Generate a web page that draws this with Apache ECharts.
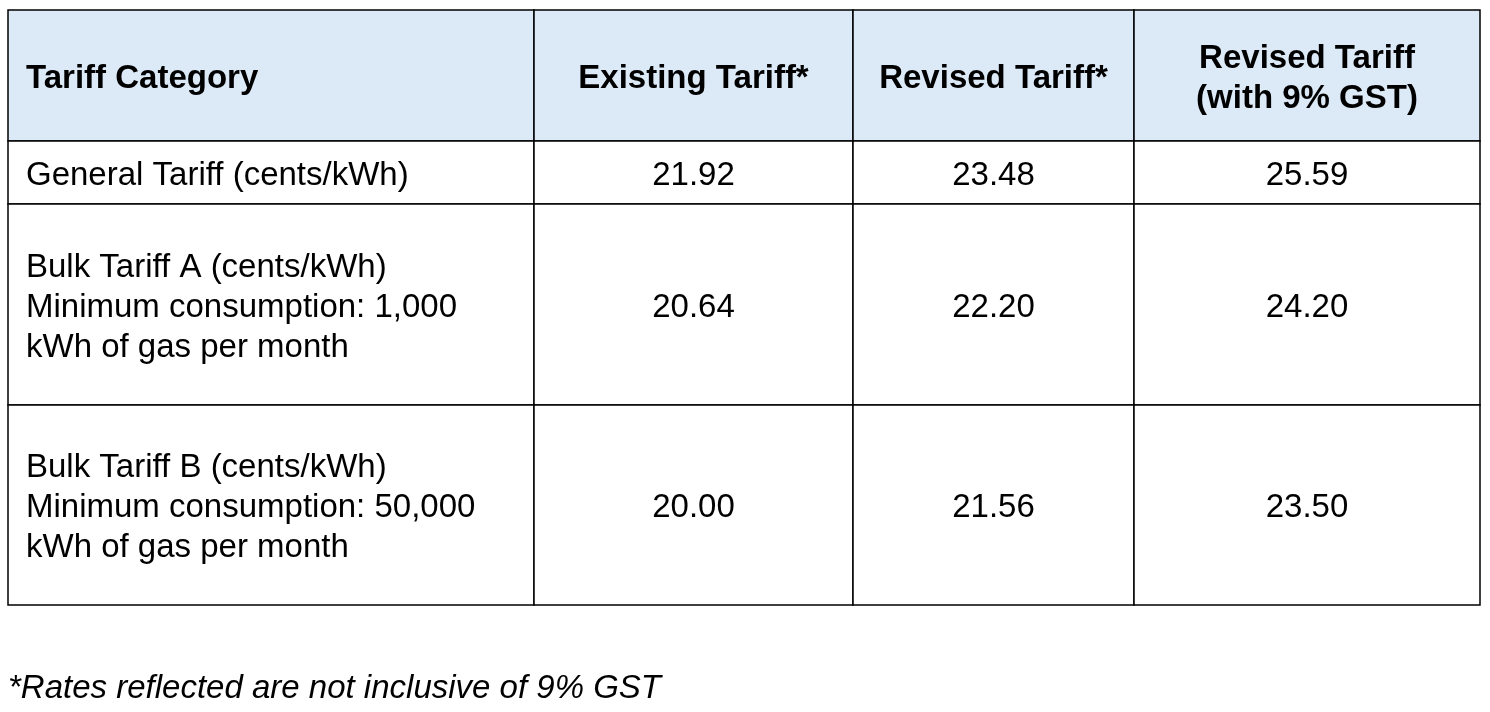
<!DOCTYPE html>
<html><head><meta charset="utf-8">
<script src="https://cdn.jsdelivr.net/npm/echarts@6/dist/echarts.min.js"></script>
<style>html,body{margin:0;background:#fff}#c{width:1490px;height:712px}</style>
</head><body><div id="c"></div>
<script>
// table content
const headers = ['Tariff Category', 'Existing Tariff*', 'Revised Tariff*', 'Revised Tariff\n(with 9% GST)'];
const categories = [
  'General Tariff (cents/kWh)',
  'Bulk Tariff A (cents/kWh)\nMinimum consumption: 1,000\nkWh of gas per month',
  'Bulk Tariff B (cents/kWh)\nMinimum consumption: 50,000\nkWh of gas per month'
];
const existing = ['21.92', '20.64', '20.00'];
const revised = ['23.48', '22.20', '21.56'];
const revisedGst = ['25.59', '24.20', '23.50'];
const footnote = '*Rates reflected are not inclusive of 9% GST';

// layout (pixel space of the axes)
const colEdges = [8, 534, 853, 1134, 1480];
const rowEdges = [10, 141, 204, 405, 605];

const rows = [headers].concat(categories.map((c, i) => [c, existing[i], revised[i], revisedGst[i]]));
const cells = [];
rows.forEach((r, ri) => r.forEach((t, ci) => cells.push([colEdges[ci], colEdges[ci + 1], rowEdges[ri], rowEdges[ri + 1], ri, ci, t])));

const chart = echarts.init(document.getElementById('c'));
chart.setOption({
  animation: false,
  grid: { left: 0, right: 0, top: 0, bottom: 0 },
  xAxis: { type: 'value', min: 0, max: 1490, show: false },
  yAxis: { type: 'value', min: 0, max: 712, inverse: true, show: false },
  series: [{
    type: 'custom',
    data: cells,
    renderItem(params, api) {
      const p0 = api.coord([api.value(0), api.value(2)]);
      const p1 = api.coord([api.value(1), api.value(3)]);
      const ri = api.value(4), ci = api.value(5);
      const text = cells[params.dataIndex][6];
      const head = ri === 0;
      const left = ci === 0;
      return {
        type: 'group',
        children: [
          { type: 'rect', shape: { x: p0[0], y: p0[1], width: p1[0] - p0[0], height: p1[1] - p0[1] },
            style: { fill: head ? '#dce9f7' : '#fff', stroke: '#000', lineWidth: 1.5 } },
          { type: 'text', x: left ? p0[0] + 18 : (p0[0] + p1[0]) / 2, y: (p0[1] + p1[1]) / 2 + 3,
            style: { text, fill: '#000', font: (head ? 'bold ' : '') + '33px "Liberation Sans", Arial',
              align: left ? 'left' : 'center', verticalAlign: 'middle', lineHeight: 40 } }
        ]
      };
    }
  }],
  graphic: [{ type: 'text', left: 8, top: 672,
    style: { text: footnote, fill: '#000', font: 'italic 33px "Liberation Sans", Arial' } }]
});
</script></body></html>
